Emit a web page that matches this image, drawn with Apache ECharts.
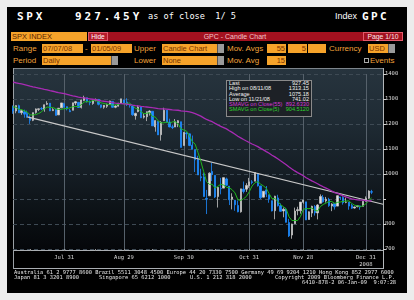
<!DOCTYPE html>
<html><head><meta charset="utf-8">
<script src="https://cdn.jsdelivr.net/npm/echarts@6/dist/echarts.min.js"></script>
<style>
html,body{margin:0;padding:0;background:#ececec;}
#wrap{position:relative;width:414px;height:300px;overflow:hidden;background:#ececec;}
.a{position:absolute;white-space:pre;line-height:1;}
.lbl{font-family:"Liberation Sans",Arial,sans-serif;font-size:8px;color:#f2a23a;}
.box{position:absolute;background:#f6a32a;height:9px;font-family:"Liberation Sans",Arial,sans-serif;font-size:7.5px;line-height:9px;color:#7a3300;white-space:pre;overflow:hidden;}
.seg{position:absolute;right:0;top:0;width:6px;height:9px;background:#9a9a9a;border-left:1px solid #555;}
.ft{font-family:"DejaVu Sans Mono",monospace;font-size:5.4px;color:#e6e6e6;}
#legend{position:absolute;left:226px;top:80px;width:84px;height:35px;background:#1d2126;border:1px solid #8a8a8a;font-family:"Liberation Sans",Arial,sans-serif;font-size:5.6px;color:#f0f0f0;}
#legend div{position:relative;height:5.25px;line-height:5.6px;padding:0 2px;}
#legend span{position:absolute;right:2px;top:0;}
</style></head>
<body>
<div id="wrap">
  <div class="a" style="left:7px;top:7px;width:400px;height:286px;background:#000;"></div>
  <!-- header -->
  <div class="a" style="left:17px;top:11px;font-family:'DejaVu Sans Mono',monospace;font-weight:bold;font-size:11px;letter-spacing:2.7px;color:#fff;">SPX</div>
  <div class="a" style="left:75px;top:11px;font-family:'DejaVu Sans Mono',monospace;font-weight:bold;font-size:11px;letter-spacing:3px;color:#fff;">927.45Y</div>
  <div class="a" style="left:148px;top:12px;font-family:'DejaVu Sans Mono',monospace;font-size:8.6px;color:#fff;">as of close  1/ 5</div>
  <div class="a" style="left:335px;top:12px;font-family:'Liberation Sans',Arial,sans-serif;font-size:9px;color:#fff;">Index</div>
  <div class="a" style="left:362px;top:11px;font-family:'DejaVu Sans Mono',monospace;font-weight:bold;font-size:11px;letter-spacing:2.4px;color:#fff;">GPC</div>
  <!-- row 1 -->
  <div class="box" style="left:11px;top:32px;width:75px;padding-left:1px;color:#5a2400;">SPX INDEX</div>
  <div class="a" style="left:88px;top:32px;width:315px;height:9px;background:#a3111f;"></div>
  <div class="a" style="left:88px;top:32px;width:18px;height:7px;border:1px solid #e35a6a;background:#b71c2c;font-family:'Liberation Sans',Arial,sans-serif;font-size:6.5px;line-height:7px;color:#fff;text-align:center;">Hide</div>
  <div class="a" style="left:175px;top:33px;width:120px;text-align:center;font-family:'Liberation Sans',Arial,sans-serif;font-size:7px;color:#f3c3c8;">GPC - Candle Chart</div>
  <div class="a" style="left:363px;top:32px;width:38px;height:7px;border:1px solid #e35a6a;font-family:'Liberation Sans',Arial,sans-serif;font-size:6.8px;line-height:7px;color:#fbe4e6;text-align:center;">Page 1/10</div>
  <!-- row 2 -->
  <div class="a lbl" style="left:13px;top:45px;">Range</div>
  <div class="box" style="left:42px;top:44px;width:40px;padding-left:1px;">07/07/08</div>
  <div class="a lbl" style="left:85px;top:45px;">-</div>
  <div class="box" style="left:91px;top:44px;width:40px;padding-left:1px;">01/05/09</div>
  <div class="a lbl" style="left:134px;top:45px;">Upper</div>
  <div class="box" style="left:162px;top:44px;width:61px;padding-left:1px;">Candle Chart<div class="seg"></div></div>
  <div class="a lbl" style="left:227px;top:45px;">Mov. Avgs</div>
  <div class="box" style="left:267px;top:44px;width:18px;padding-right:1px;text-align:right;">55</div>
  <div class="box" style="left:288px;top:44px;width:18px;padding-right:1px;text-align:right;">5</div>
  <div class="box" style="left:308px;top:44px;width:18px;"></div>
  <div class="a lbl" style="left:329px;top:45px;">Currency</div>
  <div class="box" style="left:368px;top:44px;width:26px;padding-left:1px;">USD<div class="seg"></div></div>
  <!-- row 3 -->
  <div class="a lbl" style="left:13px;top:57px;">Period</div>
  <div class="box" style="left:42px;top:56px;width:75px;padding-left:1px;">Daily<div class="seg"></div></div>
  <div class="a lbl" style="left:134px;top:57px;">Lower</div>
  <div class="box" style="left:162px;top:56px;width:61px;padding-left:1px;">None<div class="seg"></div></div>
  <div class="a lbl" style="left:227px;top:57px;">Mov. Avg</div>
  <div class="box" style="left:267px;top:56px;width:18px;padding-right:1px;text-align:right;">15</div>
  <div class="a" style="left:364px;top:58px;width:3px;height:3px;border:1px solid #aaa;"></div>
  <div class="a lbl" style="left:370px;top:57px;">Events</div>
  <!-- chart frame and background -->
  <div class="a" style="left:13px;top:68px;width:370px;height:182px;background:linear-gradient(to bottom,#27343e 0%,#1f2b34 30%,#141c23 60%,#0b1014 82%,#05070a 100%);"></div>
  <div class="a" style="left:13px;top:68px;width:370px;height:1px;background:#7d858c;"></div>
  <div class="a" style="left:13px;top:250px;width:370px;height:1px;background:#a9adb1;"></div>
  <div class="a" style="left:13px;top:268px;width:370px;height:1px;background:#a9adb1;"></div>
  <div class="a" style="left:13px;top:68px;width:1px;height:201px;background:#9aa0a5;"></div>
  <div class="a" style="left:383px;top:68px;width:1px;height:201px;background:#b3b7ba;"></div>
  <div id="chart" class="a" style="left:0;top:0;width:414px;height:300px;"></div>
  <!-- legend box -->
  <div id="legend">
    <div>Last<span>927.45</span></div>
    <div>High on 08/11/08<span>1313.15</span></div>
    <div>Average<span>1075.18</span></div>
    <div>Low on 11/21/08<span>741.02</span></div>
    <div style="color:#d23ad6;">SMAVG on Close(55)<span>892.6330</span></div>
    <div style="color:#2fd22f;">SMAVG on Close(5)<span>904.5120</span></div>
  </div>
  <!-- footer -->
  <div class="a ft" style="left:14px;top:270px;">Australia 61 2 9777 8600 Brazil 5511 3048 4500 Europe 44 20 7330 7500 Germany 49 69 9204 1210 Hong Kong 852 2977 6000</div>
  <div class="a ft" style="left:14px;top:275px;">Japan 81 3 3201 8900</div>
  <div class="a ft" style="left:99px;top:275px;">Singapore 65 6212 1000</div>
  <div class="a ft" style="left:190px;top:275px;">U.S. 1 212 318 2000</div>
  <div class="a ft" style="left:275px;top:275px;">Copyright 2009 Bloomberg Finance L.P.</div>
  <div class="a ft" style="left:302px;top:280px;">6410-878-2 06-Jan-09  9:07:28</div>
</div>
<script>
// ---- data ----
const dates = [
 'Jul 7','Jul 8','Jul 9','Jul 10','Jul 11','Jul 14','Jul 15','Jul 16','Jul 17','Jul 18','Jul 21','Jul 22','Jul 23','Jul 24','Jul 25','Jul 28','Jul 29','Jul 30','Jul 31',
 'Aug 1','Aug 4','Aug 5','Aug 6','Aug 7','Aug 8','Aug 11','Aug 12','Aug 13','Aug 14','Aug 15','Aug 18','Aug 19','Aug 20','Aug 21','Aug 22','Aug 25','Aug 26','Aug 27','Aug 28','Aug 29',
 'Sep 2','Sep 3','Sep 4','Sep 5','Sep 8','Sep 9','Sep 10','Sep 11','Sep 12','Sep 15','Sep 16','Sep 17','Sep 18','Sep 19','Sep 22','Sep 23','Sep 24','Sep 25','Sep 26','Sep 29','Sep 30',
 'Oct 1','Oct 2','Oct 3','Oct 6','Oct 7','Oct 8','Oct 9','Oct 10','Oct 13','Oct 14','Oct 15','Oct 16','Oct 17','Oct 20','Oct 21','Oct 22','Oct 23','Oct 24','Oct 27','Oct 28','Oct 29','Oct 30','Oct 31',
 'Nov 3','Nov 4','Nov 5','Nov 6','Nov 7','Nov 10','Nov 11','Nov 12','Nov 13','Nov 14','Nov 17','Nov 18','Nov 19','Nov 20','Nov 21','Nov 24','Nov 25','Nov 26','Nov 28',
 'Dec 1','Dec 2','Dec 3','Dec 4','Dec 5','Dec 8','Dec 9','Dec 10','Dec 11','Dec 12','Dec 15','Dec 16','Dec 17','Dec 18','Dec 19','Dec 22','Dec 23','Dec 24','Dec 26','Dec 29','Dec 30','Dec 31',
 'Jan 2','Jan 5'];
const padDates = ['Jan 6','Jan 7','Jan 8','Jan 9'];
const monthEndLabels = ['Jul 31','Aug 29','Sep 30','Oct 31','Nov 28','Dec 31'];
const midMonthTicks = ['Jul 15','Aug 15','Sep 15','Oct 15','Nov 14','Dec 15'];
const yearLabel = '2008';

const opens = [
 1262.90,1251.84,1273.38,1245.25,1248.66,1241.61,1226.83,1214.65,1246.31,1258.22,1261.82,1257.08,1278.87,1283.22,1253.51,1257.76,1236.38,1264.52,1281.37,
 1269.42,1253.27,1254.87,1283.99,1286.51,1266.29,1294.42,1304.79,1288.64,1282.11,1293.85,1298.14,1276.65,1267.34,1271.07,1277.59,1290.47,1267.03,1271.29,1283.79,1296.49,
 1287.83,1276.61,1271.80,1233.21,1249.50,1267.98,1227.50,1229.04,1245.88,1250.92,1188.31,1210.34,1157.08,1213.11,1255.37,1207.61,1188.79,1187.87,1204.47,1209.07,1113.78,
 1164.17,1160.64,1115.16,1097.56,1057.60,988.91,988.42,902.31,912.75,1009.97,994.60,909.53,942.29,943.51,980.40,951.67,899.08,895.22,874.28,848.92,939.51,939.38,953.11,
 968.67,971.31,1001.84,952.40,907.44,936.75,917.15,893.39,853.13,904.36,873.23,852.34,859.03,805.87,755.84,801.20,853.40,852.90,886.89,
 888.61,817.94,843.60,869.75,844.43,882.71,906.48,892.17,898.35,871.79,881.07,871.53,908.16,905.98,886.96,887.20,874.31,863.87,869.51,872.37,870.58,890.59,
 902.99,929.17];
const highs = [
 1273.95,1274.17,1277.36,1257.65,1257.27,1253.50,1234.35,1245.52,1262.31,1262.23,1267.74,1277.42,1291.17,1283.22,1263.23,1260.09,1263.20,1284.33,1284.93,
 1270.52,1260.49,1284.88,1291.67,1286.51,1297.85,1313.15,1304.79,1294.03,1300.11,1302.05,1300.22,1276.65,1276.01,1281.40,1293.09,1290.47,1275.65,1285.05,1300.68,1297.59,
 1303.04,1280.60,1271.80,1244.94,1274.42,1268.66,1243.90,1249.98,1255.09,1250.92,1214.84,1210.34,1211.14,1265.12,1255.37,1221.15,1197.41,1220.03,1215.77,1209.07,1168.03,
 1167.03,1160.64,1153.82,1097.56,1072.91,1021.06,1005.25,936.36,1006.93,1044.31,994.60,947.71,984.64,985.40,985.44,951.67,922.83,896.30,893.78,940.51,969.97,963.23,984.38,
 975.57,1007.51,1001.84,952.40,931.46,951.95,917.15,893.39,913.01,916.88,882.29,865.90,864.57,820.52,801.20,865.60,868.94,887.68,896.25,
 888.61,850.54,873.12,875.60,879.42,918.57,916.26,908.27,904.63,883.24,884.63,914.66,908.16,911.02,905.47,887.37,880.44,869.79,873.74,873.70,891.12,910.32,
 934.73,936.63];
const lows = [
 1240.68,1242.84,1244.57,1236.76,1225.35,1225.01,1200.44,1211.39,1241.49,1251.81,1255.70,1248.83,1276.06,1251.48,1251.75,1234.37,1236.38,1264.52,1265.97,
 1254.54,1247.45,1254.67,1276.00,1264.29,1262.11,1291.41,1285.64,1274.86,1276.84,1290.74,1274.51,1263.11,1261.16,1264.36,1277.59,1264.87,1263.21,1270.03,1283.79,1282.74,
 1272.20,1265.59,1232.83,1217.23,1247.12,1224.51,1221.60,1211.54,1233.81,1192.70,1169.28,1155.88,1133.50,1213.11,1205.61,1187.06,1179.79,1187.87,1187.54,1106.39,1113.78,
 1140.77,1111.43,1098.14,1007.97,996.23,970.97,909.19,839.80,912.75,972.07,903.99,865.83,918.74,943.51,952.47,875.81,858.44,852.85,846.75,845.27,922.26,928.50,944.59,
 958.82,971.31,949.86,899.73,906.90,907.47,884.90,850.48,818.69,869.88,848.98,826.84,806.18,747.78,741.02,801.20,834.99,841.37,881.21,
 815.69,817.94,827.60,833.60,818.41,882.71,885.38,885.45,868.73,851.35,857.72,871.53,895.93,877.44,883.02,857.09,860.10,861.44,866.52,857.07,870.58,889.67,
 899.35,919.53];
const closes = [
 1252.31,1273.70,1244.69,1253.39,1239.49,1228.30,1214.91,1245.36,1260.32,1260.68,1260.00,1277.00,1282.19,1252.54,1257.76,1234.37,1263.20,1284.26,1267.38,
 1260.31,1249.01,1284.88,1289.19,1266.07,1296.32,1305.32,1289.59,1285.83,1292.93,1298.20,1278.60,1266.69,1274.54,1277.72,1292.20,1266.84,1271.51,1281.66,1300.68,1282.83,
 1277.58,1274.98,1236.83,1242.31,1267.79,1224.51,1232.04,1249.05,1251.70,1192.70,1213.60,1156.39,1206.51,1255.08,1207.09,1188.22,1185.87,1209.18,1213.27,1106.39,1166.36,
 1161.06,1114.28,1099.23,1056.89,996.23,984.94,909.92,899.22,1003.35,998.01,907.84,946.43,940.55,985.40,955.05,896.78,908.11,876.77,848.92,940.51,930.09,954.09,968.75,
 966.30,1005.75,952.77,904.88,930.99,919.21,898.95,852.30,911.29,873.29,850.75,859.12,806.58,752.44,800.03,851.81,857.39,887.68,896.24,
 816.21,848.81,870.74,845.22,876.07,909.70,888.67,899.24,873.59,879.73,868.57,913.18,904.42,885.28,887.88,871.63,863.16,868.15,872.80,869.42,890.64,903.25,
 931.80,927.45];
// closes before the window, used only to start the moving averages
const priorCloses = [
 1390.33,1388.17,1375.94,1379.93,1388.82,1397.84,1396.37,1390.94,1385.59,
 1409.34,1413.90,1407.49,1418.26,1392.57,1397.68,1388.28,1403.58,1403.04,1408.66,1423.57,1425.35,1426.63,1413.40,1390.71,1394.35,1375.93,1385.35,1390.84,1398.26,1400.38,
 1385.67,1377.65,1377.20,1404.05,1360.68,1361.76,1358.44,1335.49,1339.87,1360.03,1360.14,1350.93,1337.81,1342.83,1317.93,1318.00,1314.29,1321.97,1283.15,1278.38,1280.00,
 1284.91,1261.52,1262.90];
const trendPoints = [[5, 1228.3], [130, 879]];
const lastPrice = 927.45, sma55Last = 892.63, sma5Last = 904.51;

// ---- build ----
const all = priorCloses.concat(closes);
function sma(n){
  const out = [];
  for (let i = 0; i < closes.length; i++){
    const end = priorCloses.length + i;
    let s = 0; for (let k = end - n + 1; k <= end; k++) s += all[k];
    out.push(+(s / n).toFixed(2));
  }
  return out;
}
const sma55 = sma(55), sma5 = sma(5);
const candles = closes.map((c, i) => [opens[i], c, lows[i], highs[i]]);
const cats = dates.concat(padDates);

const chart = echarts.init(document.getElementById('chart'), null, {renderer: 'canvas'});
const fontF = '"DejaVu Sans Mono", monospace';
chart.setOption({
  animation: false,
  backgroundColor: 'transparent',
  grid: {left: 13, right: 31, top: 74, bottom: 51},
  xAxis: {
    type: 'category', data: cats, boundaryGap: false,
    axisLine: {show: false},
    axisTick: {show: true, length: 2, interval: (i, v) => midMonthTicks.includes(v) || monthEndLabels.includes(v), lineStyle: {color: '#9a9a9a'}},
    axisLabel: {interval: (i, v) => monthEndLabels.includes(v), fontSize: 5.5, color: '#dcdcdc', margin: 5, fontFamily: fontF, lineHeight: 7,
      formatter: v => v === 'Dec 31' ? v + '\n' + yearLabel : v},
    splitLine: {show: true, interval: (i, v) => monthEndLabels.includes(v), lineStyle: {color: '#56616b', width: 1}}
  },
  yAxis: {
    type: 'value', position: 'right', min: 700, max: 1400, interval: 100,
    axisLine: {show: false},
    axisTick: {show: true, length: 3, lineStyle: {color: '#cfcfcf'}},
    axisLabel: {fontSize: 5.5, color: '#dcdcdc', margin: 2, fontFamily: fontF, formatter: v => v === 900 ? '' : String(v)},
    splitLine: {lineStyle: {color: '#3e4a54', type: [4, 3], width: 1}}
  },
  series: [
    {type: 'candlestick', data: candles, barWidth: 1.8, z: 2,
      itemStyle: {color: '#e2e2e2', color0: '#1e8cff', borderColor: '#c4c4c4', borderColor0: '#1e8cff', borderWidth: 0.8}},
    {type: 'line', data: trendPoints, symbol: 'none', z: 3, lineStyle: {color: '#c9c9c9', width: 1.2}},
    {type: 'line', data: sma5, symbol: 'none', z: 4, lineStyle: {color: '#1fb81f', width: 1}},
    {type: 'line', data: sma55, symbol: 'none', z: 5, lineStyle: {color: '#a82bb4', width: 1.3},
      markLine: {silent: true, symbol: 'none', lineStyle: {opacity: 0},
        label: {position: 'end', distance: 2, fontSize: 5.5, fontFamily: fontF, padding: [1, 2, 0, 2]},
        data: [
          {yAxis: sma5Last, label: {formatter: ' ', backgroundColor: '#22c022', width: 14, height: 4, padding: 0}},
          {yAxis: lastPrice, label: {formatter: lastPrice.toFixed(2), backgroundColor: '#f4f4f4', color: '#000'}},
          {yAxis: sma55Last, label: {formatter: sma55Last.toFixed(2), backgroundColor: '#e02ce0', color: '#fff'}}
        ]}}
  ]
});
</script>
</body></html>
